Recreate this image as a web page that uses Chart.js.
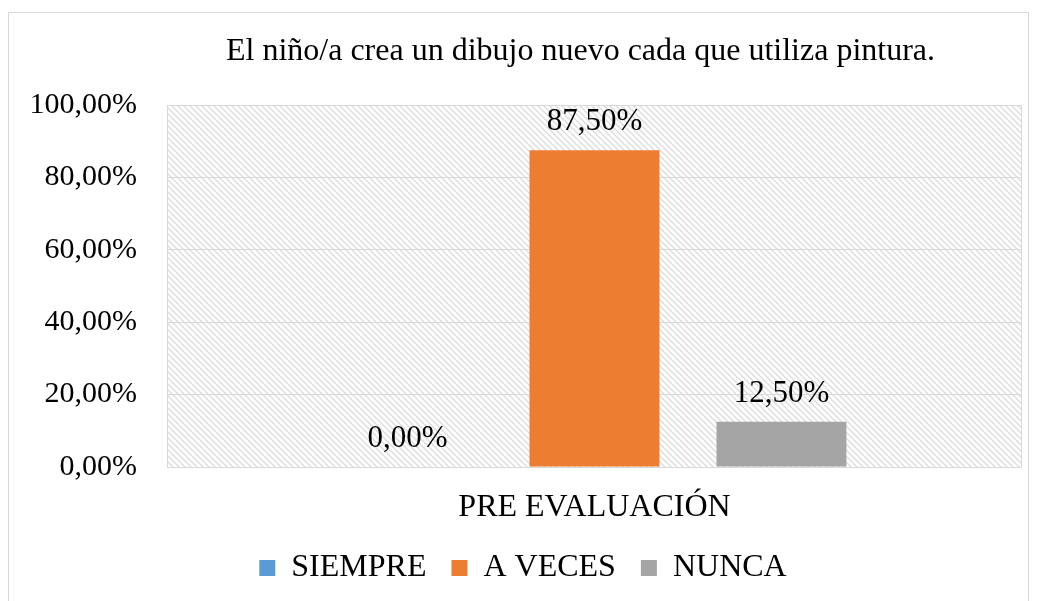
<!DOCTYPE html>
<html>
<head>
<meta charset="utf-8">
<script src="https://cdn.jsdelivr.net/npm/chart.js@4"></script>
<style>
  html, body { margin: 0; padding: 0; background: #fff; }
  #wrap { position: relative; width: 1038px; height: 601px; }
  #frame { position: absolute; left: 8px; top: 12px; width: 1021px; height: 600px; border: 1px solid #d9d9d9; box-sizing: border-box; }
  canvas { position: absolute; left: 0; top: 0; }
</style>
</head>
<body>
<div id="wrap">
  <div id="frame"></div>
  <canvas id="chart" width="1038" height="601"></canvas>
</div>
<script>
// ---------------- DATA ----------------
const titleText = "El niño/a crea un dibujo nuevo cada que utiliza pintura.";
const categories = ["PRE EVALUACIÓN"];
const seriesNames = ["SIEMPRE", "A VECES", "NUNCA"];
const seriesValues = [[0], [87.5], [12.5]];
const seriesColors = ["#5B9BD5", "#ED7D31", "#A5A5A5"];
const yTicks = [0, 20, 40, 60, 80, 100];

const FONT = "'Liberation Serif', 'Times New Roman', serif";

function pct(v) {
    return v.toFixed(2).replace(".", ",") + "%";
}

// hatch pattern for plot background
function makeHatch() {
    const c = document.createElement("canvas");
    c.width = 6; c.height = 6;
    const g = c.getContext("2d");
    g.fillStyle = "#fff";
    g.fillRect(0, 0, 6, 6);
    g.strokeStyle = "#dedede";
    g.lineWidth = 1.5;
    g.beginPath();
    g.moveTo(-1, -1); g.lineTo(7, 7);
    g.moveTo(-7, -1); g.lineTo(1, 7);
    g.moveTo(5, -1); g.lineTo(13, 7);
    g.stroke();
    return g.createPattern(c, "repeat");
}

const plotBackground = {
    id: "plotBackground",
    beforeDraw(chart) {
        const { ctx, chartArea: a } = chart;
        ctx.save();
        ctx.fillStyle = makeHatch();
        ctx.fillRect(a.left, a.top, a.right - a.left, a.bottom - a.top);
        ctx.restore();
    },
    afterDatasetsDraw(chart) {
        const { ctx, chartArea: a } = chart;
        ctx.save();
        ctx.strokeStyle = "#d9d9d9";
        ctx.lineWidth = 1;
        ctx.strokeRect(a.left + 0.5, a.top + 0.5, a.right - a.left - 1, a.bottom - a.top);
        ctx.restore();
    }
};

// title drawn over the plot centre
const chartTitle = {
    id: "chartTitle",
    afterDraw(chart) {
        const { ctx, chartArea: a } = chart;
        ctx.save();
        ctx.font = "32px " + FONT;
        ctx.fillStyle = "#000";
        ctx.textAlign = "center";
        ctx.textBaseline = "middle";
        ctx.fillText(titleText, (a.left + a.right) / 2 - 14, a.top - 53);
        ctx.restore();
    }
};

const barLabels = {
    id: "barLabels",
    afterDatasetsDraw(chart) {
        const ctx = chart.ctx;
        ctx.save();
        ctx.font = "31px " + FONT;
        ctx.fillStyle = "#000";
        ctx.textAlign = "center";
        ctx.textBaseline = "middle";
        chart.data.datasets.forEach((ds, i) => {
            chart.getDatasetMeta(i).data.forEach((bar, j) => {
                ctx.fillText(pct(ds.data[j]), bar.x, bar.y - 28);
            });
        });
        ctx.restore();
    }
};

new Chart(document.getElementById("chart"), {
    type: "bar",
    data: {
        labels: categories,
        datasets: seriesNames.map((n, i) => ({
            label: n,
            data: seriesValues[i],
            backgroundColor: seriesColors[i],
            barPercentage: 0.695,
            categoryPercentage: 0.656
        }))
    },
    options: {
        responsive: false,
        animation: false,
        layout: { padding: { left: 24, right: 16, top: 105, bottom: 7 } },
        plugins: {
            title: { display: false },
            legend: {
                position: "bottom",
                labels: {
                    color: "#000",
                    font: { family: FONT, size: 32, lineHeight: 1 },
                    boxWidth: 16,
                    boxHeight: 16,
                    padding: 25
                }
            },
            tooltip: { enabled: false }
        },
        scales: {
            x: {
                afterFit(scale) { scale.height = 60; },
                grid: { display: false, drawTicks: false },
                border: { display: false },
                ticks: { color: "#000", font: { family: FONT, size: 32, lineHeight: 1 }, padding: 25 }
            },
            y: {
                min: 0,
                max: 100,
                afterBuildTicks(scale) {
                    scale.ticks = yTicks.map(v => ({ value: v }));
                },
                afterFit(scale) { scale.width = 143; },
                grid: { color: "#d9d9d9", drawTicks: false },
                border: { display: false },
                ticks: {
                    color: "#000",
                    font: { family: FONT, size: 30 },
                    padding: 30,
                    callback: v => pct(v)
                }
            }
        }
    },
    plugins: [plotBackground, barLabels, chartTitle]
});
</script>
</body>
</html>
